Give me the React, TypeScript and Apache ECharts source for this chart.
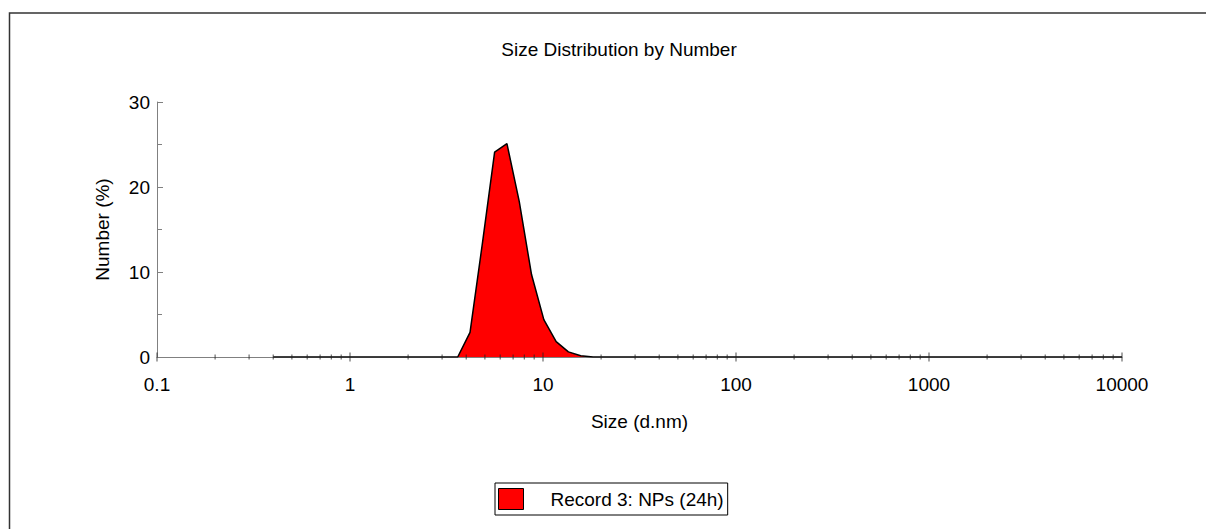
import React, { useEffect, useRef } from "react";
import * as echarts from "echarts";

// Size bins (d.nm) of the instrument
const sizes: number[] = [
  0.4, 0.4632, 0.5365, 0.6213, 0.7195, 0.8332, 0.9649, 1.117, 1.294, 1.499,
  1.736, 2.01, 2.328, 2.696, 3.122, 3.615, 4.187, 4.849, 5.615, 6.503,
  7.531, 8.721, 10.1, 11.7, 13.54, 15.69, 18.17, 21.04, 24.36, 28.21,
  32.67, 37.84, 43.82, 50.75, 58.77, 68.06, 78.82, 91.28, 105.7, 122.4,
  141.8, 164.2, 190.1, 220.2, 255.0, 295.3, 342.0, 396.1, 458.7, 531.2,
  615.1, 712.4, 825.0, 955.4, 1106, 1281, 1484, 1718, 1990, 2305,
  2669, 3091, 3580, 4145, 4801, 5560, 6439, 7456, 8635, 10000,
];
// Number (%) per bin
const numbers: number[] = [
  0, 0, 0, 0, 0, 0, 0, 0, 0, 0,
  0, 0, 0, 0, 0, 0, 2.9, 13.3, 24.1, 25.1,
  18.3, 9.7, 4.4, 1.8, 0.6, 0.15, 0, 0, 0, 0,
  0, 0, 0, 0, 0, 0, 0, 0, 0, 0,
  0, 0, 0, 0, 0, 0, 0, 0, 0, 0,
  0, 0, 0, 0, 0, 0, 0, 0, 0, 0,
  0, 0, 0, 0, 0, 0, 0, 0, 0, 0,
];
const decadeTicks: number[] = [0.1, 1, 10, 100, 1000, 10000];
const minorMultipliers: number[] = [2, 3, 4, 5, 6, 7, 8, 9];
const seriesName = "Record 3: NPs (24h)";
const titleText = "Size Distribution by Number";
const xName = "Size (d.nm)";
const yName = "Number (%)";

const FONT = "'Liberation Sans', Arial, Helvetica, sans-serif";

export default function App() {
  const ref = useRef<HTMLDivElement>(null);
  useEffect(() => {
    if (!ref.current) return;
    const chart = echarts.init(ref.current, undefined, { renderer: "svg" });
    const minorTicks: number[][] = [];
    decadeTicks.slice(0, -1).forEach((d) => {
      minorMultipliers.forEach((m) => minorTicks.push([Number((d * m).toPrecision(6)), 0]));
    });
    const majorTicks = decadeTicks.map((d) => [d, 0]);
    chart.setOption({
      animation: false,
      textStyle: { fontFamily: FONT },
      title: {
        text: titleText,
        left: 614,
        textAlign: "center",
        top: 35,
        textStyle: { fontSize: 19, fontWeight: "normal", color: "#000", fontFamily: FONT },
      },
      graphic: [
        {
          type: "polyline",
          shape: { points: [[9.5, 700], [9.5, 13], [1400, 13]] },
          style: { fill: "none", stroke: "#333", lineWidth: 1.5 },
          silent: true,
        },
      ],
      legend: {
        left: 495,
        top: 483,
        padding: [5, 4, 5, 3],
        borderColor: "#000",
        borderWidth: 1,
        itemWidth: 25,
        itemHeight: 21,
        icon: "rect",
        data: [seriesName],
        itemStyle: { borderColor: "#000", borderWidth: 1 },
        textStyle: { fontSize: 19, color: "#000", padding: [0, 0, 0, 22], fontFamily: FONT },
      },
      grid: { left: 157, right: 84, top: 102, bottom: 172, containLabel: false },
      xAxis: {
        type: "log",
        logBase: 10,
        min: 0.1,
        max: 10000,
        name: xName,
        nameLocation: "middle",
        nameGap: 55,
        nameTextStyle: { fontSize: 19, color: "#000", fontFamily: FONT },
        axisLine: { show: true, lineStyle: { color: "#808080", width: 1 } },
        axisTick: { show: false },
        splitLine: { show: false },
        minorTick: { show: false },
        axisLabel: {
          fontSize: 19,
          color: "#000",
          margin: 18,
          fontFamily: FONT,
          formatter: (v: number) => String(Number(v.toPrecision(6))),
        },
      },
      yAxis: {
        type: "value",
        min: 0,
        max: 30,
        interval: 10,
        name: yName,
        nameLocation: "middle",
        nameGap: 45,
        nameTextStyle: { fontSize: 19, color: "#000", fontFamily: FONT },
        axisLine: { show: true, lineStyle: { color: "#808080", width: 1 } },
        axisTick: { show: true, inside: true, length: 6, lineStyle: { color: "#808080" } },
        minorTick: { show: true, splitNumber: 2, length: 5, lineStyle: { color: "#808080" } },
        splitLine: { show: false },
        axisLabel: { fontSize: 19, color: "#000", margin: 7, fontFamily: FONT },
      },
      series: [
        {
          name: seriesName,
          type: "bar",
          data: [],
          itemStyle: { color: "#ff0000", borderColor: "#000", borderWidth: 1 },
        },
        {
          name: seriesName,
          type: "line",
          data: sizes.map((s, i) => [s, numbers[i]]),
          showSymbol: false,
          symbol: "none",
          itemStyle: { color: "#ff0000" },
          lineStyle: { color: "#000", width: 1.5 },
          areaStyle: { color: "#ff0000", opacity: 1 },
          z: 2,
        },
        {
          type: "scatter",
          data: minorTicks,
          symbol: "rect",
          symbolSize: [1, 5],
          itemStyle: { color: "#222" },
          clip: false,
          silent: true,
          z: 3,
        },
        {
          type: "scatter",
          data: majorTicks,
          symbol: "rect",
          symbolSize: [1, 9],
          itemStyle: { color: "#222" },
          clip: false,
          silent: true,
          z: 3,
        },
      ],
    });
    return () => chart.dispose();
  }, []);
  return (
    <div
      ref={ref}
      style={{ position: "fixed", left: 0, top: 0, width: 1206, height: 529, background: "#fff" }}
    />
  );
}
